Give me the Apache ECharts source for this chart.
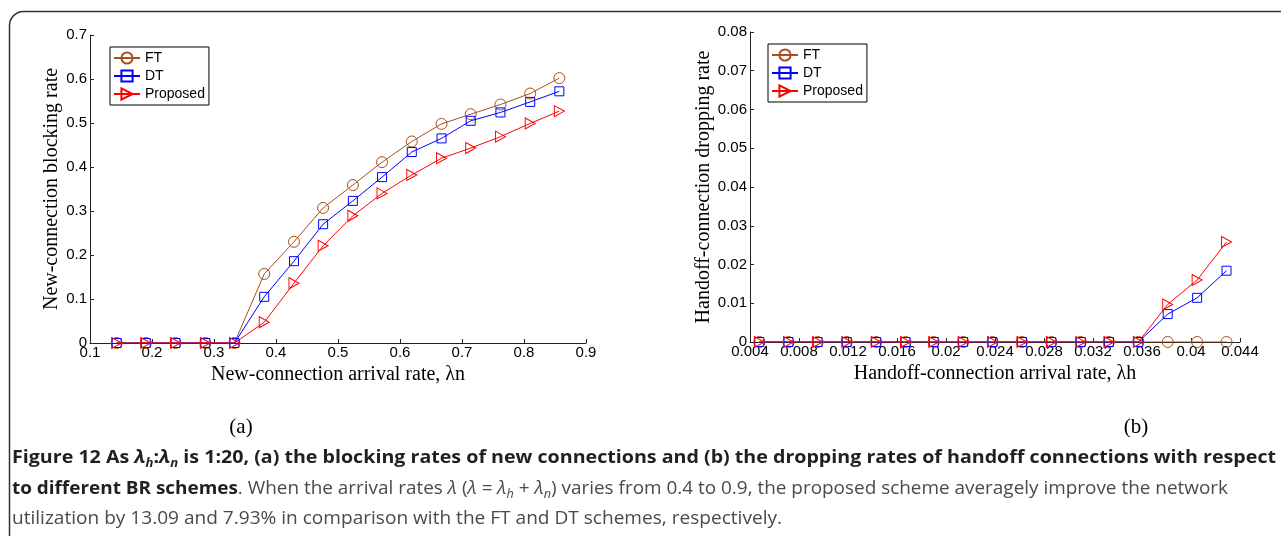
<!DOCTYPE html>
<html>
<head>
<meta charset="utf-8">
<script src="https://cdn.jsdelivr.net/npm/echarts@6/dist/echarts.min.js"></script>
<style>
html,body{margin:0;padding:0;background:#fff;}
#main{width:1281px;height:536px;}
</style>
</head>
<body>
<div id="main"></div>
<script>
// (a) new-connection arrival rate vs blocking rate
var lambdaN=[0.143,0.190,0.238,0.286,0.333,0.381,0.429,0.476,0.524,0.571,0.619,0.667,0.714,0.762,0.810,0.857];
var blockFT=[0,0,0,0,0,0.157,0.230,0.307,0.359,0.411,0.458,0.498,0.520,0.542,0.567,0.602];
var blockDT=[0,0,0,0,0,0.105,0.186,0.270,0.323,0.377,0.434,0.465,0.505,0.524,0.548,0.572];
var blockProp=[0,0,0,0,0,0.047,0.136,0.221,0.289,0.340,0.382,0.420,0.443,0.469,0.499,0.527];

// (b) handoff-connection arrival rate vs dropping rate
var lambdaH=[0.00476,0.00714,0.00952,0.0119,0.0143,0.0167,0.0190,0.0214,0.0238,0.0262,0.0286,0.0310,0.0333,0.0357,0.0381,0.0405,0.0429];
var dropFT=[0,0,0,0,0,0,0,0,0,0,0,0,0,0,0,0,0];
var dropDT=[0,0,0,0,0,0,0,0,0,0,0,0,0,0,0.0072,0.0114,0.0184];
var dropProp=[0,0,0,0,0,0,0,0,0,0,0,0,0,0,0.0097,0.0160,0.0258];

var schemes=['FT','DT','Proposed'];
var cFT='#a5501e',cDT='#0000ff',cProp='#ff0000';
var serif='Liberation Serif',sans='Liberation Sans',capFont='Open Sans';

function zip(xs,ys){
	var out=[];
	for(var i=0;i<xs.length;i++){out.push([xs[i],ys[i]]);}
	return out;
}

function mkSeries(name,idx,xs,ys,color,symbol,size){
	return {
		name:name,type:'line',xAxisIndex:idx,yAxisIndex:idx,
		data:zip(xs,ys),symbol:symbol,symbolSize:size,showAllSymbol:true,
		lineStyle:{color:color,width:1},
		itemStyle:{color:'rgba(0,0,0,0)',borderColor:color,borderWidth:1},
		emphasis:{disabled:true}
	};
}

function mkX(idx,min,max,interval,name){
	return {
		gridIndex:idx,type:'value',min:min,max:max,interval:interval,
		name:name,nameLocation:'middle',nameGap:22,
		nameTextStyle:{fontFamily:serif,fontSize:20,color:'#000'},
		axisLine:{onZero:false,lineStyle:{color:'#222'}},
		axisTick:{inside:true,length:4,lineStyle:{color:'#222'}},
		axisLabel:{fontFamily:sans,fontSize:15,color:'#000',margin:2},
		splitLine:{show:false}
	};
}
function mkY(idx,max,interval,name,gap){
	return {
		gridIndex:idx,type:'value',min:0,max:max,interval:interval,
		name:name,nameLocation:'middle',nameGap:gap,
		nameTextStyle:{fontFamily:serif,fontSize:20,color:'#000'},
		axisLine:{onZero:false,lineStyle:{color:'#222'}},
		axisTick:{inside:true,length:4,lineStyle:{color:'#222'}},
		axisLabel:{fontFamily:sans,fontSize:15,color:'#000',margin:3},
		splitLine:{show:false}
	};
}
function mkLegend(left,top){
	return {
		left:left,top:top,orient:'vertical',data:schemes,selectedMode:false,
		backgroundColor:'#fff',borderColor:'#000',borderWidth:1,
		padding:[4,4,4,3],itemGap:4,itemWidth:26,itemHeight:14,
		textStyle:{fontFamily:sans,fontSize:14,color:'#000'}
	};
}

// caption
var capStyles={
	b:{fontFamily:capFont,fontSize:18,fontWeight:'bold',fill:'#231f20',lineHeight:24},
	bi:{fontFamily:capFont,fontSize:18,fontWeight:'bold',fontStyle:'italic',fill:'#231f20',lineHeight:24},
	bs:{fontFamily:capFont,fontSize:12,fontWeight:'bold',fontStyle:'italic',fill:'#231f20',lineHeight:14,verticalAlign:'bottom'},
	r:{fontFamily:capFont,fontSize:18,fill:'#4a4a4a',lineHeight:24},
	ri:{fontFamily:capFont,fontSize:18,fontStyle:'italic',fill:'#4a4a4a',lineHeight:24},
	rs:{fontFamily:capFont,fontSize:12,fontStyle:'italic',fill:'#4a4a4a',lineHeight:14,verticalAlign:'bottom'}
};
var capLine1=[['b','Figure 12 As '],['bi','λ'],['bs','h'],['b',':'],['bi','λ'],['bs','n'],['b',' is 1:20, (a) the blocking rates of new connections and (b) the dropping rates of handoff connections with respect']];
var capLine2=[['b','to different BR schemes'],['r','. When the arrival rates '],['ri','λ'],['r',' ('],['ri','λ'],['r',' = '],['ri','λ'],['rs','h'],['r',' + '],['ri','λ'],['rs','n'],['r',') varies from 0.4 to 0.9, the proposed scheme averagely improve the network']];
var capLine3=[['r','utilization by 13.09 and 7.93% in comparison with the FT and DT schemes, respectively.']];

var ctx=document.createElement('canvas').getContext('2d');
function capText(segs,x,y,w){
	var total=0,str='';
	segs.forEach(function(s){
		var st=capStyles[s[0]];
		ctx.font=(st.fontStyle||'normal')+' '+(st.fontWeight||'normal')+' '+st.fontSize+'px "'+capFont+'"';
		total+=ctx.measureText(s[1]).width;
		str+='{'+s[0]+'|'+s[1]+'}';
	});
	return {type:'text',x:x,y:y,scaleX:w/total,silent:true,
		style:{text:str,rich:capStyles,verticalAlign:'middle',fontFamily:capFont,fontSize:18}};
}

var myChart=echarts.init(document.getElementById('main'));
var option={
	animation:false,
	backgroundColor:'#fff',
	grid:[
		{left:90,top:35,width:496,height:308},
		{left:750,top:32,width:490,height:310}
	],
	xAxis:[
		mkX(0,0.1,0.9,0.1,'New-connection arrival rate, λn'),
		mkX(1,0.004,0.044,0.004,'Handoff-connection arrival rate, λh')
	],
	yAxis:[
		mkY(0,0.7,0.1,'New-connection blocking rate',22),
		mkY(1,0.08,0.01,'Handoff-connection dropping rate',27)
	],
	legend:[mkLegend(110,47),mkLegend(768,44)],
	series:[
		mkSeries('FT',0,lambdaN,blockFT,cFT,'circle',11),
		mkSeries('DT',0,lambdaN,blockDT,cDT,'rect',9),
		mkSeries('Proposed',0,lambdaN,blockProp,cProp,'path://M0,0L10,5L0,10Z',[10,11]),
		mkSeries('FT',1,lambdaH,dropFT,cFT,'circle',11),
		mkSeries('DT',1,lambdaH,dropDT,cDT,'rect',9),
		mkSeries('Proposed',1,lambdaH,dropProp,cProp,'path://M0,0L10,5L0,10Z',[10,11])
	],
	graphic:[
		{type:'rect',silent:true,z:-10,shape:{x:9.5,y:11.5,width:1300,height:620,r:14},style:{fill:'none',stroke:'#333',lineWidth:1.5}},
		{type:'text',x:241,y:427,silent:true,style:{text:'(a)',fontFamily:serif,fontSize:21,fill:'#000',align:'center',verticalAlign:'middle'}},
		{type:'text',x:1136,y:427,silent:true,style:{text:'(b)',fontFamily:serif,fontSize:21,fill:'#000',align:'center',verticalAlign:'middle'}},
		capText(capLine1,12,458,1264),
		capText(capLine2,12,489,1216),
		capText(capLine3,12,519,770)
	]
};
myChart.setOption(option);
window.onresize=myChart.resize;
</script>
</body>
</html>
